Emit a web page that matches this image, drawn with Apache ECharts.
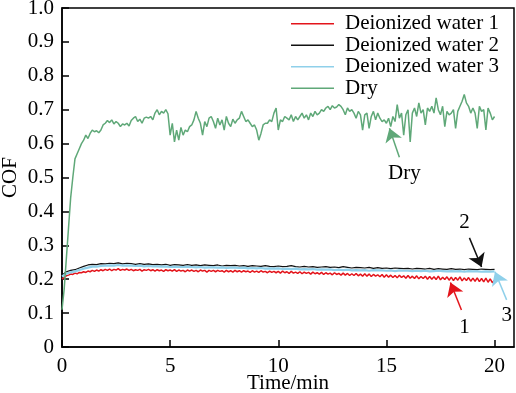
<!DOCTYPE html>
<html>
<head>
<meta charset="utf-8">
<script src="https://cdn.jsdelivr.net/npm/echarts@6/dist/echarts.min.js"></script>
<style>html,body{margin:0;padding:0;background:#fff;}#c{width:516px;height:393px;}</style>
</head>
<body>
<div id="c"></div>
<script>
// ---- data ----
const seriesNames = ['Deionized water 1', 'Deionized water 2', 'Deionized water 3', 'Dry'];
const xTicks = [0, 5, 10, 15, 20];
const yTicks = [0, 0.1, 0.2, 0.3, 0.4, 0.5, 0.6, 0.7, 0.8, 0.9, 1.0];
const redStep = 0.1;   // min between samples
const waterStep = 0.2;
const dryStep = 0.1;

const water1 = [
  0.2,0.205,0.21,0.212,0.215,0.214,0.218,0.216,0.22,0.219,
  0.222,0.22,0.224,0.222,0.226,0.223,0.227,0.224,0.228,0.225,
  0.229,0.226,0.23,0.225,0.229,0.227,0.231,0.226,0.229,0.227,
  0.23,0.226,0.229,0.225,0.228,0.226,0.229,0.224,0.228,0.226,
  0.229,0.225,0.228,0.224,0.228,0.225,0.227,0.223,0.228,0.225,
  0.227,0.224,0.228,0.223,0.227,0.224,0.226,0.222,0.227,0.224,
  0.227,0.223,0.226,0.222,0.227,0.224,0.226,0.221,0.226,0.223,
  0.226,0.222,0.226,0.223,0.225,0.221,0.226,0.222,0.225,0.221,
  0.226,0.222,0.225,0.221,0.225,0.222,0.224,0.22,0.225,0.221,
  0.224,0.22,0.225,0.221,0.223,0.219,0.224,0.22,0.223,0.219,
  0.223,0.218,0.224,0.219,0.222,0.217,0.223,0.218,0.221,0.217,
  0.222,0.216,0.221,0.217,0.22,0.215,0.221,0.216,0.219,0.215,
  0.22,0.214,0.219,0.215,0.218,0.213,0.219,0.214,0.217,0.212,
  0.218,0.212,0.217,0.211,0.216,0.211,0.217,0.21,0.215,0.209,
  0.216,0.209,0.215,0.208,0.214,0.209,0.213,0.207,0.214,0.206,
  0.213,0.206,0.212,0.205,0.211,0.204,0.212,0.205,0.21,0.203,
  0.211,0.203,0.209,0.202,0.21,0.201,0.208,0.202,0.209,0.2,
  0.208,0.2,0.207,0.199,0.209,0.198,0.206,0.199,0.207,0.197,
  0.206,0.196,0.205,0.197,0.207,0.195,0.204,0.196,0.205,0.194,
  0.203,0.194,0.204,0.193,0.202,0.192,0.203,0.191,0.201,0.19,
  0.196
];
const water2 = [
  0.212,0.222,0.226,0.228,0.233,0.238,0.242,0.244,0.243,0.246,
  0.245,0.247,0.246,0.248,0.245,0.247,0.246,0.244,0.246,0.244,
  0.245,0.243,0.244,0.242,0.244,0.241,0.243,0.242,0.241,0.243,
  0.241,0.242,0.24,0.242,0.241,0.24,0.242,0.239,0.241,0.24,
  0.241,0.239,0.24,0.238,0.24,0.239,0.238,0.24,0.238,0.237,
  0.239,0.237,0.238,0.24,0.237,0.236,0.238,0.236,0.237,0.235,
  0.236,0.237,0.235,0.236,0.234,0.237,0.235,0.233,0.235,0.234,
  0.233,0.235,0.232,0.234,0.232,0.233,0.231,0.233,0.232,0.231,
  0.232,0.23,0.232,0.231,0.23,0.232,0.229,0.231,0.23,0.229,
  0.231,0.229,0.23,0.228,0.23,0.229,0.228,0.23,0.229,0.228,
  0.229
];
const water3 = [
  0.208,0.216,0.22,0.223,0.227,0.231,0.234,0.237,0.237,0.239,
  0.24,0.241,0.24,0.242,0.24,0.241,0.24,0.239,0.24,0.238,
  0.239,0.238,0.238,0.237,0.238,0.236,0.237,0.236,0.236,0.237,
  0.236,0.235,0.236,0.234,0.235,0.235,0.234,0.235,0.233,0.234,
  0.234,0.233,0.234,0.232,0.233,0.232,0.233,0.231,0.232,0.231,
  0.232,0.23,0.231,0.23,0.231,0.229,0.23,0.229,0.23,0.228,
  0.229,0.228,0.229,0.227,0.228,0.227,0.228,0.226,0.227,0.226,
  0.227,0.225,0.227,0.226,0.226,0.225,0.226,0.224,0.226,0.225,
  0.225,0.224,0.225,0.224,0.225,0.223,0.224,0.225,0.224,0.223,
  0.224,0.223,0.224,0.222,0.224,0.223,0.223,0.222,0.223,0.222,
  0.223
];
const dry = [
  0.11,0.17,0.26,0.35,0.44,0.5,0.555,0.57,0.585,0.6,
  0.61,0.625,0.615,0.63,0.64,0.635,0.638,0.632,0.64,0.655,
  0.66,0.668,0.662,0.67,0.658,0.665,0.66,0.65,0.658,0.655,
  0.66,0.652,0.668,0.675,0.68,0.665,0.672,0.66,0.675,0.678,
  0.675,0.68,0.67,0.69,0.7,0.685,0.695,0.69,0.7,0.688,
  0.625,0.66,0.605,0.64,0.61,0.648,0.625,0.64,0.635,0.65,
  0.655,0.67,0.695,0.675,0.66,0.625,0.665,0.65,0.675,0.68,
  0.665,0.645,0.675,0.655,0.67,0.64,0.68,0.66,0.65,0.672,
  0.66,0.67,0.675,0.695,0.68,0.665,0.67,0.66,0.65,0.655,
  0.64,0.61,0.63,0.655,0.66,0.66,0.67,0.665,0.69,0.705,
  0.64,0.67,0.665,0.68,0.675,0.67,0.685,0.665,0.68,0.67,
  0.68,0.69,0.675,0.685,0.67,0.69,0.68,0.695,0.685,0.69,
  0.7,0.695,0.705,0.71,0.7,0.712,0.705,0.708,0.715,0.71,
  0.7,0.685,0.705,0.695,0.7,0.69,0.675,0.695,0.685,0.64,
  0.685,0.69,0.645,0.68,0.695,0.67,0.69,0.675,0.665,0.67,
  0.66,0.675,0.65,0.68,0.665,0.715,0.675,0.69,0.625,0.685,
  0.7,0.605,0.69,0.705,0.68,0.72,0.69,0.7,0.655,0.705,
  0.695,0.71,0.69,0.735,0.7,0.685,0.71,0.65,0.695,0.685,
  0.69,0.7,0.645,0.695,0.71,0.725,0.745,0.72,0.71,0.69,
  0.705,0.69,0.645,0.71,0.695,0.7,0.64,0.705,0.69,0.67,
  0.68
];

function pairs(vals, step) {
  return vals.map((v, i) => [+(i * step).toFixed(2), v]);
}

const FONT = '"Liberation Serif", "DejaVu Serif", serif';
const FS = 21;
const colors = ['#e3141b', '#111111', '#8fd0ea', '#5fa878'];

function arrow(from, to, color) {
  return {
    silent: true,
    symbol: ['none', 'arrow'],
    symbolSize: 13,
    label: { show: false },
    emphasis: { disabled: true },
    lineStyle: { color: color, width: 1.5, type: 'solid' },
    itemStyle: { color: color },
    data: [[{ coord: from }, { coord: to }]]
  };
}
function tag(text, at) {
  return {
    silent: true,
    symbol: 'circle',
    symbolSize: 1,
    itemStyle: { color: 'rgba(0,0,0,0)' },
    label: { show: true, position: 'inside', formatter: text, color: '#000',
      fontFamily: FONT, fontSize: FS },
    data: [{ coord: at }]
  };
}

const chart = echarts.init(document.getElementById('c'), null, { renderer: 'canvas' });
chart.setOption({
  animation: false,
  backgroundColor: '#fff',
  color: colors,
  grid: { left: 62, right: 2, top: 8, bottom: 46, show: true, borderColor: '#000', borderWidth: 1.5,
    containLabel: false, outerBoundsMode: 'none' },
  legend: {
    data: seriesNames,
    orient: 'vertical',
    left: 286,
    top: 8,
    icon: 'rect',
    itemWidth: 43,
    itemHeight: 1.5,
    itemGap: 0,
    textStyle: { fontFamily: FONT, fontSize: FS, color: '#000', lineHeight: 21.5, padding: [0, 0, 0, 6] }
  },
  xAxis: {
    type: 'value', min: 0, max: 20.9,
    name: 'Time/min', nameLocation: 'middle', nameGap: 26, nameMoveOverlap: false,
    nameTextStyle: { fontFamily: FONT, fontSize: FS, color: '#000' },
    axisLine: { lineStyle: { color: '#000', width: 1.5 } },
    axisTick: { inside: true, length: 7, lineStyle: { color: '#000', width: 1.5 }, customValues: xTicks },
    axisLabel: { customValues: xTicks, fontFamily: FONT, fontSize: FS, color: '#000', margin: 9 },
    splitLine: { show: false }
  },
  yAxis: {
    type: 'value', min: 0, max: 1, interval: 0.1,
    name: 'COF', nameLocation: 'middle', nameGap: 41, nameMoveOverlap: false,
    nameTextStyle: { fontFamily: FONT, fontSize: FS, color: '#000' },
    axisLine: { show: true, lineStyle: { color: '#000', width: 1.5 } },
    axisTick: { show: true, inside: true, length: 7, lineStyle: { color: '#000', width: 1.5 }, customValues: yTicks },
    axisLabel: { customValues: yTicks, fontFamily: FONT, fontSize: FS, color: '#000', margin: 8,
      formatter: v => v === 0 ? '0' : v.toFixed(1) },
    splitLine: { show: false }
  },
  series: [
    { name: seriesNames[0], type: 'line', data: pairs(water1, redStep), symbol: 'none', z: 2,
      lineStyle: { color: colors[0], width: 1.5 },
      markLine: arrow([18.47, 0.109], [17.96, 0.19], colors[0]),
      markPoint: tag('1', [18.61, 0.059]) },
    { name: seriesNames[1], type: 'line', data: pairs(water2, waterStep), symbol: 'none', z: 3,
      lineStyle: { color: colors[1], width: 1.2 },
      markLine: arrow([18.84, 0.322], [19.4, 0.236], colors[1]),
      markPoint: tag('2', [18.61, 0.366]) },
    { name: seriesNames[2], type: 'line', data: pairs(water3, waterStep), symbol: 'none', z: 4,
      lineStyle: { color: colors[2], width: 2.2 },
      markLine: arrow([20.56, 0.139], [20.02, 0.222], colors[2]),
      markPoint: tag('3', [20.56, 0.094]) },
    { name: seriesNames[3], type: 'line', data: pairs(dry, dryStep), symbol: 'none', z: 5,
      lineStyle: { color: colors[3], width: 1.5 },
      markLine: arrow([15.6, 0.56], [15.14, 0.645], colors[3]),
      markPoint: tag('Dry', [15.83, 0.513]) }
  ]
});
</script>
</body>
</html>
